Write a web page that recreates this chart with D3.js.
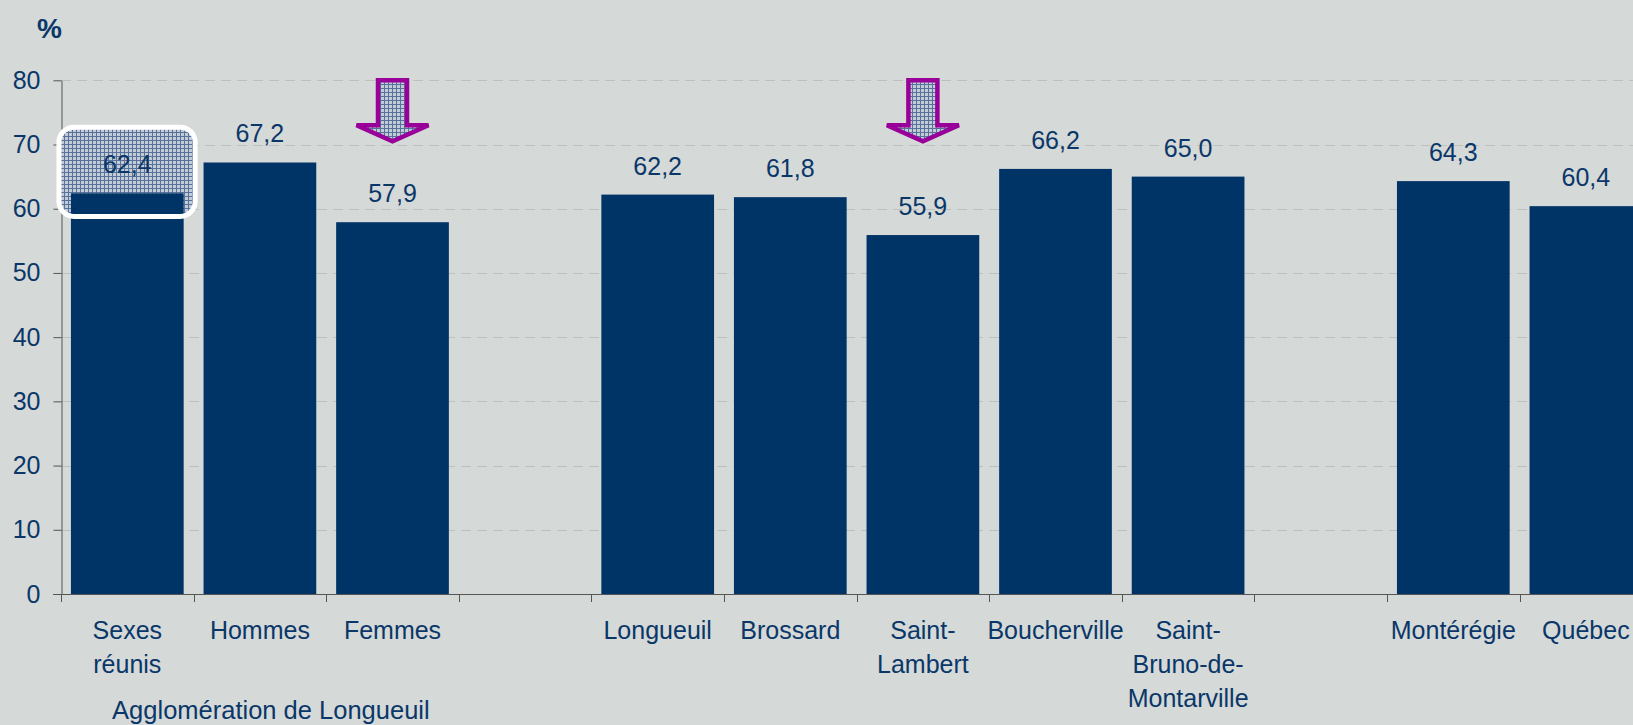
<!DOCTYPE html>
<html>
<head>
<meta charset="utf-8">
<script src="https://cdn.jsdelivr.net/npm/d3@7"></script>
<style>
  html, body { margin: 0; padding: 0; background: #d5d9d8; overflow: hidden; }
  svg { display: block; font-family: "Liberation Sans", Arial, sans-serif; }
</style>
</head>
<body>
<svg id="chart" width="1633" height="725"></svg>
<script>
// ---- data ----
const categories = ["Sexes réunis", "Hommes", "Femmes", "", "Longueuil", "Brossard", "Saint-Lambert",
                    "Boucherville", "Saint-Bruno-de-Montarville", "", "Montérégie", "Québec"];
const categoryLines = [["Sexes", "réunis"], ["Hommes"], ["Femmes"], [], ["Longueuil"], ["Brossard"],
                       ["Saint-", "Lambert"], ["Boucherville"], ["Saint-", "Bruno-de-", "Montarville"], [],
                       ["Montérégie"], ["Québec"]];
const values = [62.4, 67.2, 57.9, null, 62.2, 61.8, 55.9, 66.2, 65.0, null, 64.3, 60.4];
const yTicks = [0, 10, 20, 30, 40, 50, 60, 70, 80];
const groupLabel = "Agglomération de Longueuil";
const groupIndex = 1;            // label centred under the group of three
const arrowIndices = [2, 6];     // Femmes, Saint-Lambert
const arrowSpan = [80, 73, 70.5]; // top, head start, tip (value units)
const highlightIndex = 0;
const highlightSpan = [72.7, 58.8];
const unitLabel = "%";

// ---- layout ----
const W = 1633, H = 725;
const axisX = 61, baseY = 594, topY = 80.3;
const step = 132.6;
const textColor = "#0a3768", barColor = "#003366";

const svg = d3.select("#chart");
const x = d3.scaleBand().domain(d3.range(categories.length))
  .range([axisX, axisX + step * categories.length])
  .paddingInner(0.15).paddingOuter(0.075);
const y = d3.scaleLinear().domain([0, 80]).range([baseY, topY]);
const fmt = v => d3.format(".1f")(v).replace(".", ",");

// pattern
const defs = svg.append("defs");
const pat = defs.append("pattern").attr("id", "grid").attr("width", 4).attr("height", 4)
  .attr("patternUnits", "userSpaceOnUse");
pat.append("rect").attr("width", 4).attr("height", 4).attr("fill", "#c2cbd6");
pat.append("path").attr("d", "M0,0.5H4M0.5,0V4").attr("stroke", "#56729a").attr("stroke-width", 1);

svg.append("rect").attr("width", W).attr("height", H).attr("fill", "#d5d9d8");

// gridlines
svg.append("g").selectAll("line").data(yTicks.filter(t => t > 0)).join("line")
  .attr("x1", axisX).attr("x2", W)
  .attr("y1", d => Math.round(y(d)) + 0.5).attr("y2", d => Math.round(y(d)) + 0.5)
  .attr("stroke", "#bcc0bf").attr("stroke-width", 1).attr("stroke-dasharray", "10,6");

// y axis
const yAxis = svg.append("g").attr("transform", `translate(${axisX + 0.5},0)`)
  .call(d3.axisLeft(y).tickValues(yTicks).tickSize(8).tickPadding(13).tickSizeOuter(0));
yAxis.select(".domain").attr("stroke", "#555");
yAxis.selectAll(".tick line").attr("stroke", "#555");
yAxis.selectAll(".tick text").attr("fill", textColor).style("font-size", "25px")
  .style("font-family", "'Liberation Sans', Arial, sans-serif");

// highlight box fill (behind bars)
const hb = {
  x: x(highlightIndex) - 12, w: x.bandwidth() + 23.5,
  y: y(highlightSpan[0]), h: y(highlightSpan[1]) - y(highlightSpan[0])
};
svg.append("rect").attr("x", hb.x).attr("y", hb.y).attr("width", hb.w).attr("height", hb.h)
  .attr("rx", 15).attr("fill", "url(#grid)");

// bars
const idx = d3.range(categories.length).filter(i => values[i] != null);
svg.append("g").selectAll("rect").data(idx).join("rect")
  .attr("x", i => x(i)).attr("width", x.bandwidth())
  .attr("y", i => y(values[i])).attr("height", i => y(0) - y(values[i]))
  .attr("fill", barColor);

// highlight box outline
svg.append("rect").attr("x", hb.x).attr("y", hb.y).attr("width", hb.w).attr("height", hb.h)
  .attr("rx", 15).attr("fill", "none").attr("stroke", "#ffffff").attr("stroke-width", 5);

// x axis line and ticks
svg.append("line").attr("x1", axisX - 8).attr("x2", W).attr("y1", baseY + 0.5).attr("y2", baseY + 0.5)
  .attr("stroke", "#555");
svg.append("g").selectAll("line").data(d3.range(categories.length + 1)).join("line")
  .attr("x1", i => Math.round(axisX + i * x.step()) + 0.5).attr("x2", i => Math.round(axisX + i * x.step()) + 0.5)
  .attr("y1", baseY).attr("y2", baseY + 8).attr("stroke", "#555");

// value labels
svg.append("g").selectAll("text").data(idx).join("text")
  .attr("x", i => x(i) + x.bandwidth() / 2).attr("y", i => y(values[i]) - 20)
  .attr("text-anchor", "middle").attr("fill", textColor).style("font-size", "25px")
  .text(i => fmt(values[i]));

// category labels
const cl = svg.append("g").selectAll("text").data(d3.range(categories.length)).join("text")
  .attr("x", i => x(i) + x.bandwidth() / 2).attr("y", baseY + 45)
  .attr("text-anchor", "middle").attr("fill", textColor).style("font-size", "25px");
cl.selectAll("tspan").data(i => categoryLines[i].map(t => ({ t, i }))).join("tspan")
  .attr("x", d => x(d.i) + x.bandwidth() / 2).attr("dy", (d, k) => k === 0 ? 0 : 34)
  .text(d => d.t);

// group label
svg.append("text").attr("x", x(groupIndex) + x.bandwidth() / 2 + 11).attr("y", baseY + 125)
  .attr("text-anchor", "middle").attr("fill", textColor).style("font-size", "25.5px").text(groupLabel);

// unit label
svg.append("text").attr("x", 37).attr("y", 37.5).attr("fill", textColor)
  .style("font-size", "28px").style("font-weight", "bold").text(unitLabel);

// arrows
const sh = 14.5, hh = 36;
svg.append("g").selectAll("path").data(arrowIndices).join("path")
  .attr("d", i => {
    const cx = x(i) + x.bandwidth() / 2;
    const t = y(arrowSpan[0]), h = y(arrowSpan[1]), p = y(arrowSpan[2]);
    return `M${cx - sh},${t}H${cx + sh}V${h}H${cx + hh}L${cx},${p}L${cx - hh},${h}H${cx - sh}Z`;
  })
  .attr("fill", "url(#grid)").attr("stroke", "#990099").attr("stroke-width", 4.5)
  .attr("stroke-linejoin", "miter");
</script>
</body>
</html>
